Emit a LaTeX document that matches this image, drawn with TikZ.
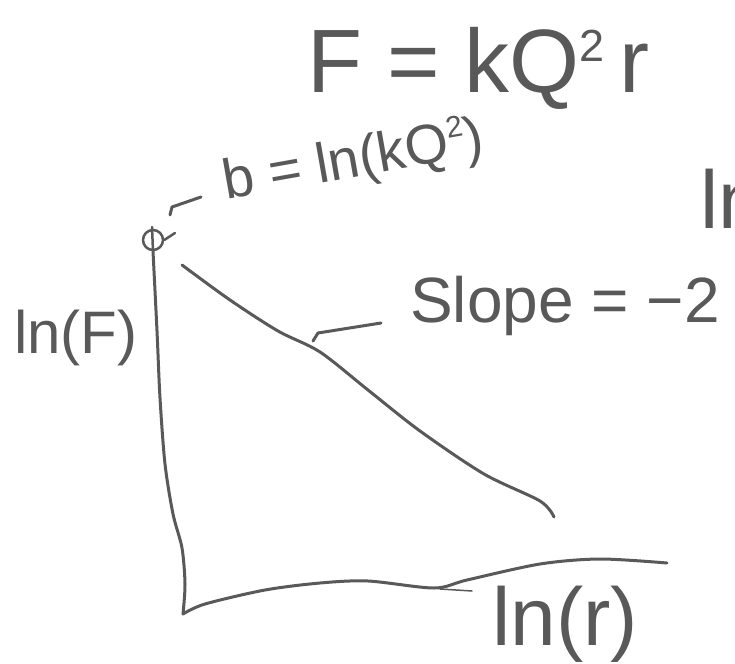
\documentclass[tikz,border=0pt]{standalone}
\usepackage{fontspec}
\setmainfont{Liberation Sans}
\definecolor{inkc}{HTML}{595959}
\newcommand\myfs[1]{\fontsize{#1}{#1}\selectfont}
\begin{document}
\begin{tikzpicture}[x=1pt,y=-1pt,line cap=round,line join=round,
  stroke/.style={draw=inkc,line width=3pt},
  thinstroke/.style={draw=inkc,line width=1.5pt},
  lbl/.style={text=inkc,inner sep=0pt,anchor=base west}]
\useasboundingbox (0,0) rectangle (735,663);
% labels
\node[lbl,font=\myfs{90}] (title) at (307,93) {F = kQ\raisebox{0.35em}{\myfs{45}2}\,r};
\node[lbl,font=\myfs{56},rotate=10] (blabel) at (226,200) {b = ln(kQ\raisebox{0.4em}{\myfs{30}2})};
\node[lbl,font=\myfs{60}] (ylabel) at (14,353) {ln(F)};
\node[lbl,font=\myfs{64}] (slope) at (410,322) {Slope = −2};
\node[lbl,font=\myfs{82}] (lnright) at (700,228) {ln};
\node[lbl,font=\myfs{82}] (xlabel) at (492,645) {ln(r)};
% intercept point
\node[circle,draw=inkc,line width=2.5pt,minimum size=20pt,inner sep=0pt] (b0) at (153,240) {};
\draw[stroke,line width=2.5pt] (152,227) -- (153,251);
\draw[stroke,line width=2.5pt] (b0.east) -- (175,233);
% corner of axes
\coordinate (corner) at (183,614);
% vertical axis
\draw[stroke] plot[smooth] coordinates {(b0.south) (157,331) (160,398) (165,464) (173,514) (182,548) (185,584) (corner)};
% horizontal axis
\draw[stroke] plot[smooth] coordinates {(corner) (205,604) (265,590) (320,583) (368,581) (434,588) (467,580) (540,564) (600,559) (667,563)};
\draw[thinstroke] (440,589) -- (472,591);
% fitted line
\draw[stroke] plot[smooth] coordinates {(182,265) (230,300) (278,331) (320,352) (368,390) (420,431) (484,474) (540,501) (554,517)};
% leaders
\coordinate (bl1) at (170,215);
\coordinate (bl2) at (201,197);
\draw[stroke] (bl1) -- (172,207) -- (bl2);
\coordinate (sl1) at (313,341);
\coordinate (sl2) at (381,323);
\draw[stroke] (sl1) -- (318,333) -- (sl2);
\end{tikzpicture}
\end{document}
